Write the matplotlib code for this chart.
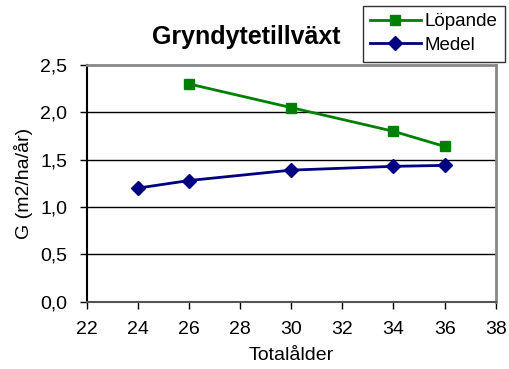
import matplotlib
matplotlib.use("Agg")
import matplotlib.pyplot as plt
from matplotlib.ticker import FuncFormatter

plt.rcParams['font.family'] = ['Liberation Sans', 'DejaVu Sans']

# Totalålder och grundytetillväxt
lopande_x = [26, 30, 34, 36]
lopande_y = [2.30, 2.05, 1.80, 1.64]
medel_x = [24, 26, 30, 34, 36]
medel_y = [1.20, 1.28, 1.39, 1.43, 1.44]

x_ticks = [22, 24, 26, 28, 30, 32, 34, 36, 38]
y_ticks = [0.0, 0.5, 1.0, 1.5, 2.0, 2.5]

fig = plt.figure(figsize=(5.09, 3.69), dpi=100)
ax = fig.add_axes([0.170, 0.182, 0.804, 0.642])

ax.plot(lopande_x, lopande_y, color="#008000", marker="s", markersize=7.5,
        linewidth=2, label="Löpande", zorder=3)
ax.plot(medel_x, medel_y, color="#000080", marker="D", markersize=7,
        linewidth=2, label="Medel", zorder=3)

ax.set_xlim(22, 38)
ax.set_ylim(0, 2.5)
ax.set_xticks(x_ticks)
ax.set_yticks(y_ticks)
ax.yaxis.set_major_formatter(FuncFormatter(lambda v, p: f"{v:.1f}".replace(".", ",")))

for v in y_ticks[1:-1]:
    ax.axhline(v, color="black", linewidth=1, zorder=1)

ax.spines["left"].set_color("black")
ax.spines["bottom"].set_color("#555555")
ax.spines["top"].set_color("#888888")
ax.spines["right"].set_color("#888888")
for s in ax.spines.values():
    s.set_linewidth(1.5)
ax.spines["top"].set_linewidth(2)
ax.spines["right"].set_linewidth(2)

ax.tick_params(direction="out", length=5, width=1, labelsize=14, colors="black")
ax.tick_params(axis="y", pad=9)
ax.tick_params(axis="x", pad=9)
ax.set_xlabel("Totalålder", fontsize=14, labelpad=6)
ax.set_ylabel("G (m2/ha/år)", fontsize=14, labelpad=5)

fig.text(0.483, 0.90, "Gryndytetillväxt", fontsize=18, fontweight="bold",
         ha="center", va="center")

leg = ax.legend(loc="upper right", bbox_to_anchor=(1.022, 1.25), fontsize=13.5,
                frameon=True, fancybox=False, borderpad=0.4, handlelength=2.7,
                handletextpad=0.2, labelspacing=0.35, borderaxespad=0)
leg.get_frame().set_edgecolor("black")
leg.get_frame().set_linewidth(1)

fig.savefig("out.png", dpi=100)
